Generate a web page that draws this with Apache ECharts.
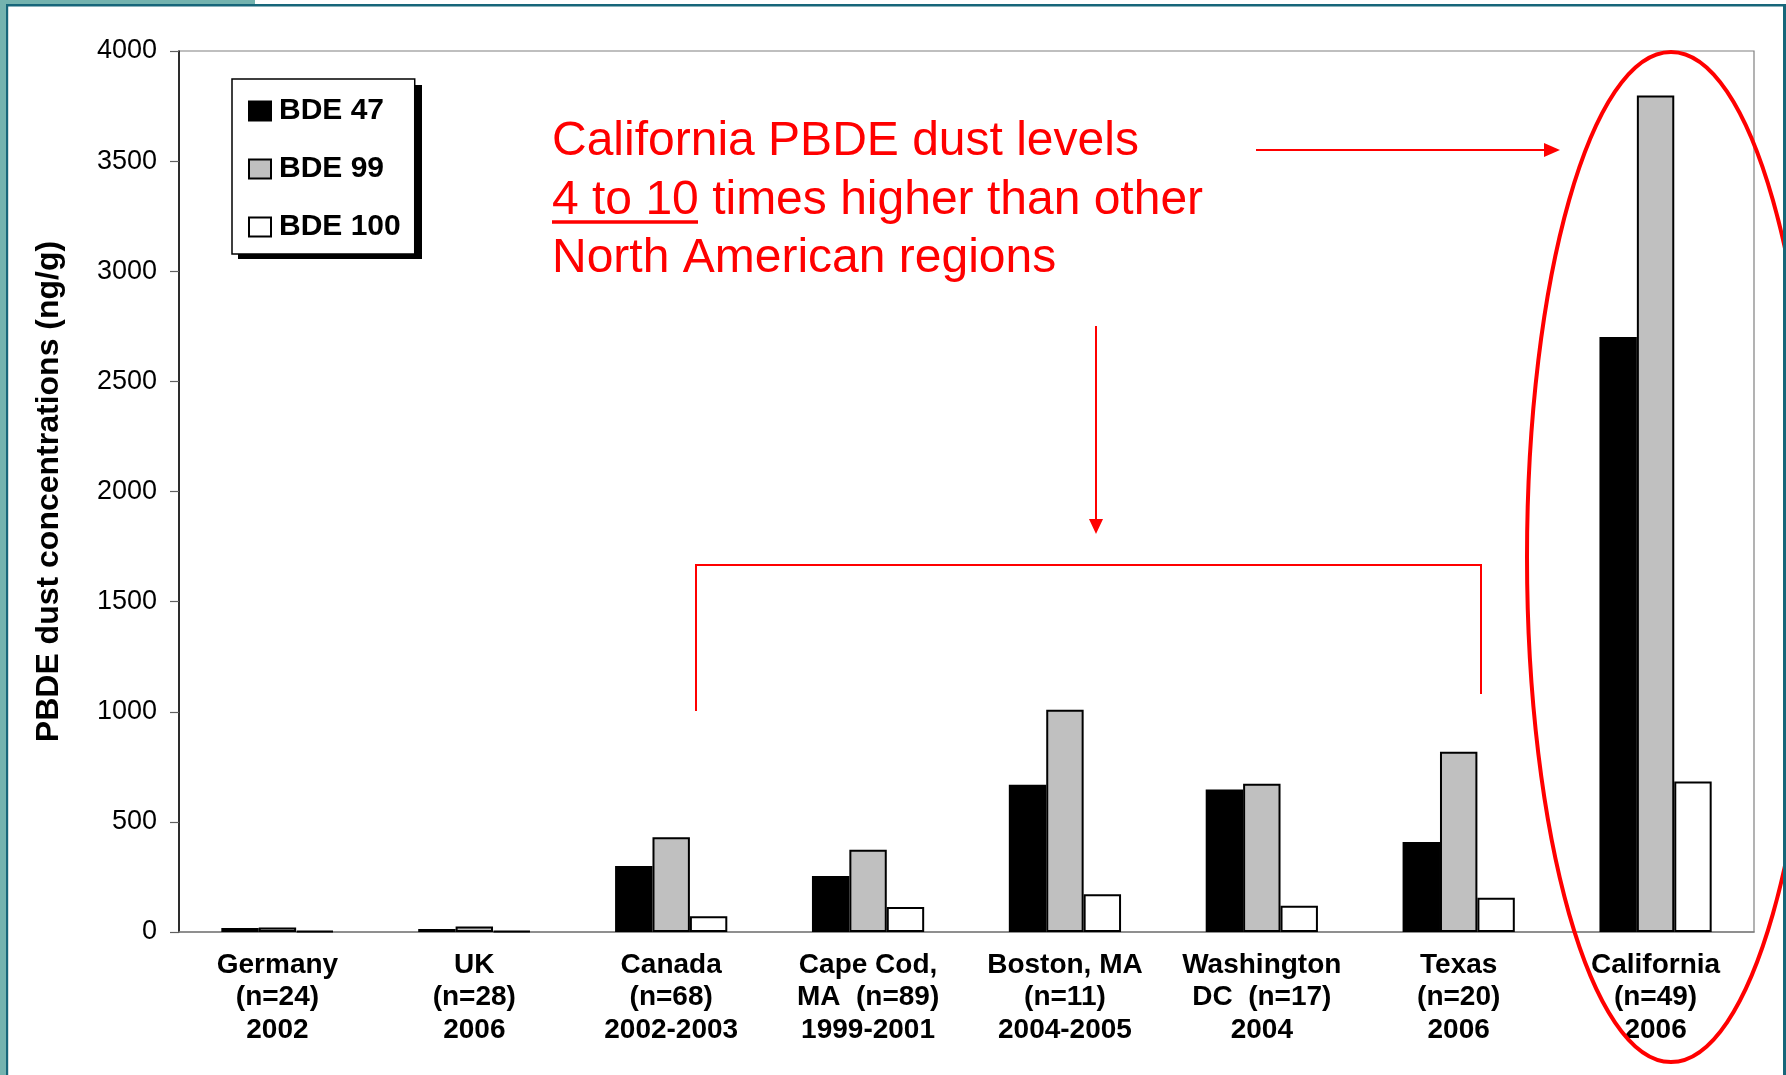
<!DOCTYPE html>
<html>
<head>
<meta charset="utf-8">
<script src="https://cdn.jsdelivr.net/npm/echarts@6/dist/echarts.min.js"></script>
<style>
html,body{margin:0;padding:0;background:#fff;}
#c{width:1786px;height:1075px;}
</style>
</head>
<body>
<div id="c"></div>
<script>
const categories = ['Germany\n(n=24)\n2002', 'UK\n(n=28)\n2006', 'Canada\n(n=68)\n2002-2003', 'Cape Cod,\nMA  (n=89)\n1999-2001', 'Boston, MA\n(n=11)\n2004-2005', 'Washington\nDC  (n=17)\n2004', 'Texas\n(n=20)\n2006', 'California\n(n=49)\n2006'];
const seriesNames = ['BDE 47', 'BDE 99', 'BDE 100'];
const bde47 = [18, 14, 300, 254, 668, 647, 409, 2701];
const bde99 = [20, 25, 430, 373, 1009, 673, 818, 3798];
const bde100 = [5, 4, 72, 114, 171, 119, 155, 683];
const yTicks = {min: 0, max: 4000, interval: 500};
const noteLines = ['California PBDE dust levels', '4 to 10 times higher than other', 'North American regions'];

const FONT = "'Liberation Sans', Arial, sans-serif";
const RED = '#FF0000';
const TEAL_L = '#74B3AF';
const TEAL_D = '#17667A';

const chart = echarts.init(document.getElementById('c'), null, {renderer: 'canvas'});

function barSeries(name, data, color) {
  return {
    name: name, type: 'bar', data: data,
    barGap: '0%', barCategoryGap: '43%',
    itemStyle: {color: color, borderColor: '#000', borderWidth: 2},
    emphasis: {disabled: true}
  };
}

const option = {
  backgroundColor: '#fff',
  animation: false,
  textStyle: {fontFamily: FONT},
  grid: {left: 179, right: 32, top: 51, bottom: 143, show: true, borderColor: '#808080', borderWidth: 1.2, backgroundColor: 'transparent'},
  legend: {
    orient: 'vertical', left: 232, top: 79, z: 5,
    data: seriesNames.map(function (n) { return {name: n, icon: 'rect'}; }),
    itemWidth: 22, itemHeight: 19, itemGap: 28,
    padding: [17, 14, 12, 16],
    backgroundColor: '#fff', borderColor: '#000', borderWidth: 1.5,
    textStyle: {fontFamily: FONT, fontSize: 30, fontWeight: 'bold', color: '#000', lineHeight: 30, padding: [0, 0, 0, 3]},
    selectedMode: false
  },
  xAxis: {
    type: 'category', data: categories,
    axisLine: {lineStyle: {color: '#808080', width: 1.5}},
    axisTick: {length: 8, lineStyle: {color: '#606060', width: 1.2}},
    axisLabel: {fontFamily: FONT, fontSize: 28, fontWeight: 'bold', color: '#000', lineHeight: 32.5, margin: 17, interval: 0}
  },
  yAxis: {
    type: 'value', min: yTicks.min, max: yTicks.max, interval: yTicks.interval,
    name: 'PBDE dust concentrations (ng/g)', nameLocation: 'middle', nameGap: 114,
    nameTextStyle: {fontFamily: FONT, fontSize: 32, fontWeight: 'bold', color: '#000'},
    axisLine: {show: true, lineStyle: {color: '#000', width: 1.5}},
    axisTick: {show: true, length: 9, lineStyle: {color: '#606060', width: 1.2}},
    axisLabel: {fontFamily: FONT, fontSize: 27, color: '#000', margin: 22, formatter: function (v) { return String(v); }},
    splitLine: {show: false}
  },
  series: [
    barSeries(seriesNames[0], bde47, '#000000'),
    barSeries(seriesNames[1], bde99, '#C0C0C0'),
    barSeries(seriesNames[2], bde100, '#FFFFFF')
  ]
};
chart.setOption(option);

// annotations
const g = [];
// frame
g.push({type: 'rect', z: 100, silent: true, shape: {x: 0, y: 0, width: 255, height: 5}, style: {fill: TEAL_L}});
g.push({type: 'rect', z: 100, silent: true, shape: {x: 0, y: 0, width: 6, height: 1075}, style: {fill: TEAL_L}});
g.push({type: 'rect', z: 101, silent: true, shape: {x: 6, y: 4, width: 1780, height: 2.5}, style: {fill: TEAL_D}});
g.push({type: 'rect', z: 101, silent: true, shape: {x: 6, y: 4, width: 2.2, height: 1071}, style: {fill: TEAL_D}});
g.push({type: 'rect', z: 101, silent: true, shape: {x: 1783, y: 4, width: 3, height: 1071}, style: {fill: TEAL_D}});
// legend shadow
g.push({type: 'rect', z: 1, silent: true, shape: {x: 238, y: 85, width: 184, height: 174}, style: {fill: '#000'}});
// text
noteLines.forEach(function (t, i) {
  g.push({type: 'text', z: 50, silent: true, x: 552, y: 118 + i * 58.5,
    style: {text: t, fill: RED, font: '48px ' + FONT, verticalAlign: 'top', align: 'left'}});
});
// underline "4 to 10"
g.push({type: 'line', z: 50, silent: true, shape: {x1: 552, y1: 222, x2: 698, y2: 222}, style: {stroke: RED, lineWidth: 3.5}});
// right arrow
g.push({type: 'line', z: 50, silent: true, shape: {x1: 1256, y1: 150, x2: 1546, y2: 150}, style: {stroke: RED, lineWidth: 2}});
g.push({type: 'polygon', z: 50, silent: true, shape: {points: [[1544, 143], [1560, 150], [1544, 157]]}, style: {fill: RED}});
// down arrow
g.push({type: 'line', z: 50, silent: true, shape: {x1: 1096, y1: 326, x2: 1096, y2: 522}, style: {stroke: RED, lineWidth: 2}});
g.push({type: 'polygon', z: 50, silent: true, shape: {points: [[1089, 519], [1103, 519], [1096, 534]]}, style: {fill: RED}});
// bracket
g.push({type: 'polyline', z: 50, silent: true, shape: {points: [[696, 711], [696, 565], [1481, 565], [1481, 694]]}, style: {stroke: RED, lineWidth: 2, fill: null}});
// ellipse
g.push({type: 'ellipse', z: 60, silent: true, shape: {cx: 1671, cy: 557, rx: 144, ry: 505}, style: {stroke: RED, lineWidth: 4, fill: null}});

chart.setOption({graphic: {elements: g}});
</script>
</body>
</html>
